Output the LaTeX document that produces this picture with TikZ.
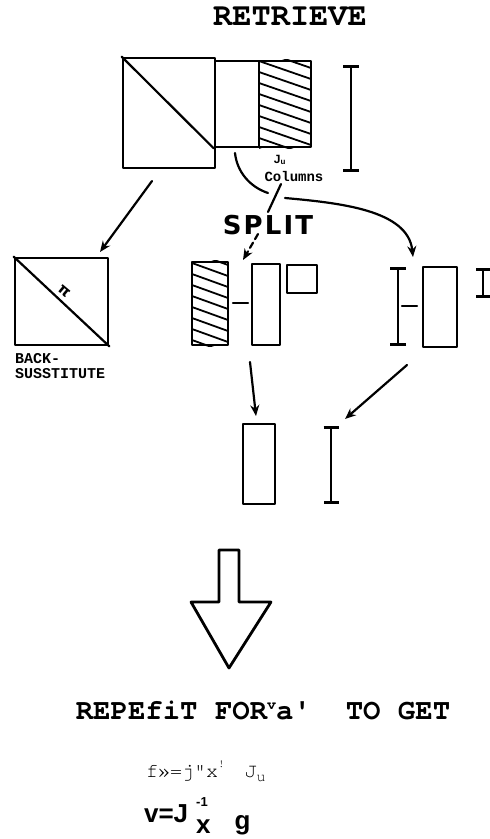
\documentclass[tikz,border=0pt]{standalone}
\usepackage{fontspec}
\usetikzlibrary{arrows.meta}
\newfontfamily\monofam{texgyrecursor}[Extension=.otf,UprightFont=*-regular,BoldFont=*-bold,Ligatures=NoCommon]
\newfontfamily\dotfam{Liberation Mono}
\newfontfamily\sansfam{Liberation Sans}
\newfontfamily\splitfam{DejaVu Sans}[LetterSpace=8.0]
\newfontfamily\symfam{DejaVu Sans}
\begin{document}
\begin{tikzpicture}[x=1pt,y=-1pt,line width=2.2pt,line cap=round,line join=round,
  box/.style={draw,line width=2.6pt,inner sep=0pt},
  arr/.style={-{Stealth[length=11pt,width=9pt]},line width=2.2pt},
  ibar/.style={{Bar[width=#1]}-{Bar[width=#1]},line width=2.6pt},
  hatchline/.style={line width=1.8pt}]
\useasboundingbox (0,0) rectangle (490,839);

% title
\node[font=\monofam\bfseries\fontsize{32}{32}\selectfont] (title) at (290,16) {RETRIEVE};

% top block
\node[box,minimum width=92pt,minimum height=110pt] (sq) at (169,113) {};
\node[box,minimum width=44pt,minimum height=86pt] (mid) at (237,104) {};
\node[box,minimum width=52pt,minimum height=86pt] (hat) at (285,104) {};
\draw (sq.north west) -- (mid.south west);
\begin{scope}
  \clip (hat.south west) rectangle (hat.north east);
  \foreach \k in {0,...,9} \draw[hatchline,line cap=butt] (259,50+11*\k) -- ++(52,18);
\end{scope}
\coordinate (ibA1) at (351,65); \coordinate (ibA2) at (351,172);
\draw[ibar=16pt] (ibA1) -- (ibA2);
\node[font=\sansfam\bfseries\fontsize{12}{12}\selectfont] (ju) at (280,160) {J\textsubscript{u}};
\node[font=\dotfam\bfseries\fontsize{14}{14}\selectfont] (cols) at (294,176) {Columns};

% SPLIT
\node[font=\splitfam\bfseries\fontsize{26}{26}\selectfont] (split) at (268,225) {SPLIT};

% back-substitute block
\node[box,minimum width=93pt,minimum height=87pt] (bs) at (61.5,301.5) {};
\draw (bs.north west) -- (bs.south east);
\node[font=\symfam\bfseries\fontsize{15}{15}\selectfont,rotate=-40] (pi) at (64,291) {π};
\node[font=\dotfam\bfseries\fontsize{15}{15}\selectfont,align=left,anchor=north west,inner sep=0pt] (bslab) at (14,352) {BACK-\\SUSSTITUTE};

% middle group
\node[box,minimum width=36pt,minimum height=83pt] (hat2) at (210,303.5) {};
\begin{scope}
  \clip (hat2.south west) rectangle (hat2.north east);
  \foreach \k in {0,...,9} \draw[hatchline,line cap=butt] (192,252+11*\k) -- ++(36,13);
\end{scope}
\coordinate (dA1) at (233,303); \coordinate (dA2) at (248,303);
\draw (dA1) -- (dA2);
\node[box,minimum width=28pt,minimum height=81pt] (tall) at (266,304.5) {};
\node[box,minimum width=30pt,minimum height=28pt] (small) at (302,279) {};

% right group
\coordinate (ibB1) at (398,267); \coordinate (ibB2) at (398,346);
\draw[ibar=16pt] (ibB1) -- (ibB2);
\coordinate (dB1) at (402,306); \coordinate (dB2) at (417,306);
\draw (dB1) -- (dB2);
\node[box,minimum width=34pt,minimum height=80pt] (rr) at (440,307) {};
\coordinate (ibC1) at (483,268); \coordinate (ibC2) at (483,298);
\draw[ibar=14pt] (ibC1) -- (ibC2);

% bottom group
\node[box,minimum width=32pt,minimum height=80pt] (bot) at (259,464) {};
\coordinate (ibD1) at (331,426); \coordinate (ibD2) at (331,504);
\draw[ibar=15pt] (ibD1) -- (ibD2);

% connectors
\coordinate (a1s) at (152,181); \coordinate (a1e) at (100,252);
\draw[arr] (a1s) -- (a1e);
\coordinate (c0) at (235,153); \coordinate (c1) at (268,193);
\coordinate (c2) at (285,198); \coordinate (c3) at (413,257);
\draw (c0) .. controls (237,172) and (250,187) .. (c1);
\draw[arr] (c2) .. controls (340,203) and (408,210) .. (c3);
\coordinate (s1) at (281,184); \coordinate (s2) at (268,212);
\draw (s1) -- (s2);
\coordinate (d1) at (258,234); \coordinate (d2) at (243,260);
\draw[arr,dash pattern=on 6pt off 4pt] (d1) -- (d2);
\coordinate (a4s) at (250,362); \coordinate (a4e) at (256,416);
\draw[arr] (a4s) -- (a4e);
\coordinate (a5s) at (407,365); \coordinate (a5e) at (345,419);
\draw[arr] (a5s) -- (a5e);

% big hollow arrow
\draw[line width=2.8pt] (219,550) -- (239,550) -- (239,602) -- (271,602) -- (229,668) -- (191,602) -- (219,602) -- cycle;

% bottom text
\node[font=\monofam\bfseries\fontsize{29}{29}\selectfont] (rep) at (263,710) {REPEf{}iT FOR\raisebox{10pt}{\fontsize{15}{15}\selectfont v}a'~~TO GET};
\node[font=\monofam\fontsize{20}{20}\selectfont,anchor=base west,inner sep=0pt] (eq1) at (145,777) {f»=j"x\raisebox{10pt}{\fontsize{11}{11}\selectfont !}\hspace{20pt}J\raisebox{-4pt}{\fontsize{15}{15}\selectfont u}};
\node[font=\sansfam\bfseries\fontsize{26}{26}\selectfont,anchor=base west,inner sep=0pt] (eq2) at (143,822) {v=J\hspace{8pt}\makebox[0pt][l]{\raisebox{16pt}{\fontsize{13}{13}\selectfont -1}}\raisebox{-11pt}{x}\hspace{24pt}\raisebox{-7pt}{g}};
\end{tikzpicture}
\end{document}
